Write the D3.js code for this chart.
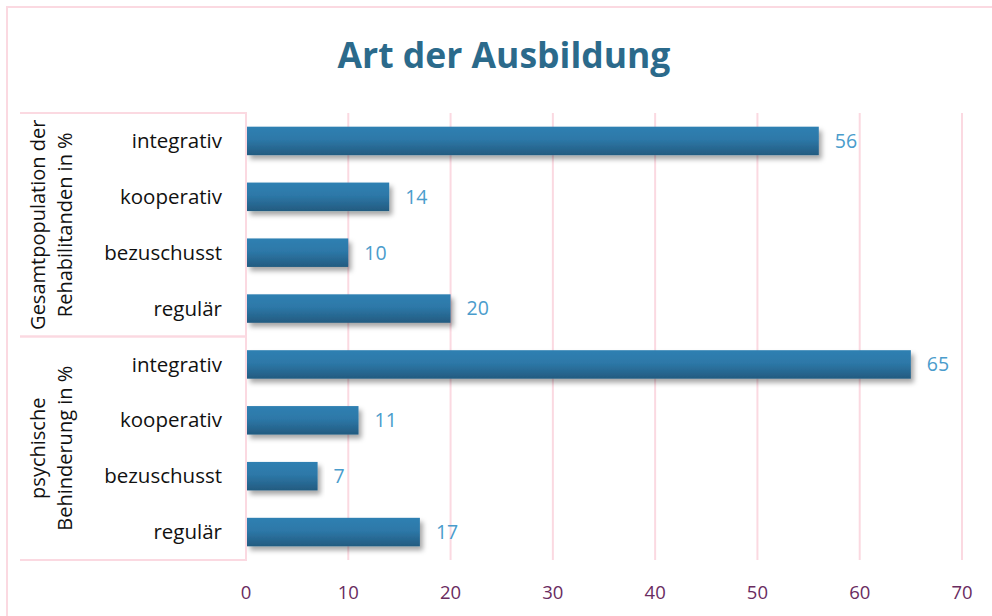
<!DOCTYPE html>
<html>
<head>
<meta charset="utf-8">
<script src="https://cdn.jsdelivr.net/npm/d3@7"></script>
<style>
  body { margin: 0; background: #fff; }
  text { font-family: "Open Sans", sans-serif; }
</style>
</head>
<body>
<div id="chart"></div>
<script>
var groups = [["Gesamtpopulation der", "Rehabilitanden in %"], ["psychische", "Behinderung in %"]],
    categories = ["integrativ", "kooperativ", "bezuschusst", "regulär"],
    values1 = [56, 14, 10, 20],
    values2 = [65, 11, 7, 17],
    ticks = [0, 10, 20, 30, 40, 50, 60, 70];

var rows = [];
categories.forEach((c, i) => rows.push({ g: 0, cat: c, v: values1[i], key: "a" + i }));
categories.forEach((c, i) => rows.push({ g: 1, cat: c, v: values2[i], key: "b" + i }));

var W = 992, H = 616,
    margin = { top: 113, right: 30, bottom: 56, left: 246 },
    width = 962 - margin.left,
    height = 560 - margin.top;

var svg = d3.select("#chart").append("svg").attr("width", W).attr("height", H);

var defs = svg.append("defs");
var grad = defs.append("linearGradient").attr("id", "bar").attr("x1", 0).attr("y1", 0).attr("x2", 0).attr("y2", 1);
grad.append("stop").attr("offset", "0%").attr("stop-color", "#2f80b2");
grad.append("stop").attr("offset", "45%").attr("stop-color", "#2d78a8");
grad.append("stop").attr("offset", "100%").attr("stop-color", "#235b80");
var f = defs.append("filter").attr("id", "shadow").attr("x", "-5%").attr("y", "-30%").attr("width", "115%").attr("height", "180%");
f.append("feDropShadow").attr("dx", 3).attr("dy", 4).attr("stdDeviation", 2.5).attr("flood-color", "#000").attr("flood-opacity", 0.35);

// outer frame
svg.append("rect").attr("x", 7).attr("y", 7).attr("width", W).attr("height", H)
    .attr("fill", "none").attr("stroke", "#fbd9e1").attr("stroke-width", 2);

svg.append("text")
    .attr("x", 504).attr("y", 68)
    .attr("text-anchor", "middle")
    .attr("font-size", 35.5).attr("font-weight", "bold")
    .attr("fill", "#2b6a8b")
    .text("Art der Ausbildung");

var g = svg.append("g").attr("transform", "translate(" + margin.left + "," + margin.top + ")");

var x = d3.scaleLinear().domain([0, 70]).range([0, width]);
var y = d3.scaleBand().domain(rows.map(d => d.key)).range([0, height]).paddingInner(0.49).paddingOuter(0.245);

// grid
g.selectAll(".grid").data(ticks).join("line")
    .attr("x1", d => x(d)).attr("x2", d => x(d))
    .attr("y1", 0).attr("y2", height)
    .attr("stroke", "#fbd9e1").attr("stroke-width", 2);

// x tick labels
g.selectAll(".tick").data(ticks).join("text")
    .attr("x", d => x(d)).attr("y", height + 39)
    .attr("text-anchor", "middle")
    .attr("font-size", 18.5).attr("fill", "#6a2c5f")
    .text(d => d);

// category box
var half = height / 2;
var box = svg.append("g").attr("transform", "translate(0," + margin.top + ")");
box.selectAll("path").data([0, 1]).join("path")
    .attr("d", d => "M20," + (d * half) + "H" + margin.left + "V" + ((d + 1) * half) + "H20")
    .attr("fill", "none").attr("stroke", "#fbd9e1").attr("stroke-width", 2);

// group labels
groups.forEach((lines, i) => {
    var cy = i * half + half / 2;
    var t = box.append("text")
        .attr("transform", "translate(0," + cy + ") rotate(-90)")
        .attr("text-anchor", "middle")
        .attr("font-size", 20).attr("fill", "#111");
    lines.forEach((l, j) => {
        t.append("tspan").attr("x", 0).attr("y", 45 + j * 27).text(l);
    });
});

// category labels
g.selectAll(".cat").data(rows).join("text")
    .attr("x", -24)
    .attr("y", d => y(d.key) + y.bandwidth() / 2)
    .attr("dy", "0.35em")
    .attr("text-anchor", "end")
    .attr("font-size", 20.5).attr("fill", "#111")
    .text(d => d.cat);

// bars
g.selectAll(".bar").data(rows).join("rect")
    .attr("x", 1)
    .attr("y", d => y(d.key))
    .attr("width", d => x(d.v) - 1)
    .attr("height", y.bandwidth())
    .attr("fill", "url(#bar)")
    .attr("filter", "url(#shadow)");

// value labels
g.selectAll(".val").data(rows).join("text")
    .attr("x", d => x(d.v) + 16)
    .attr("y", d => y(d.key) + y.bandwidth() / 2)
    .attr("dy", "0.35em")
    .attr("font-size", 19.5).attr("fill", "#4a9ccc")
    .text(d => d.v);
</script>
</body>
</html>
